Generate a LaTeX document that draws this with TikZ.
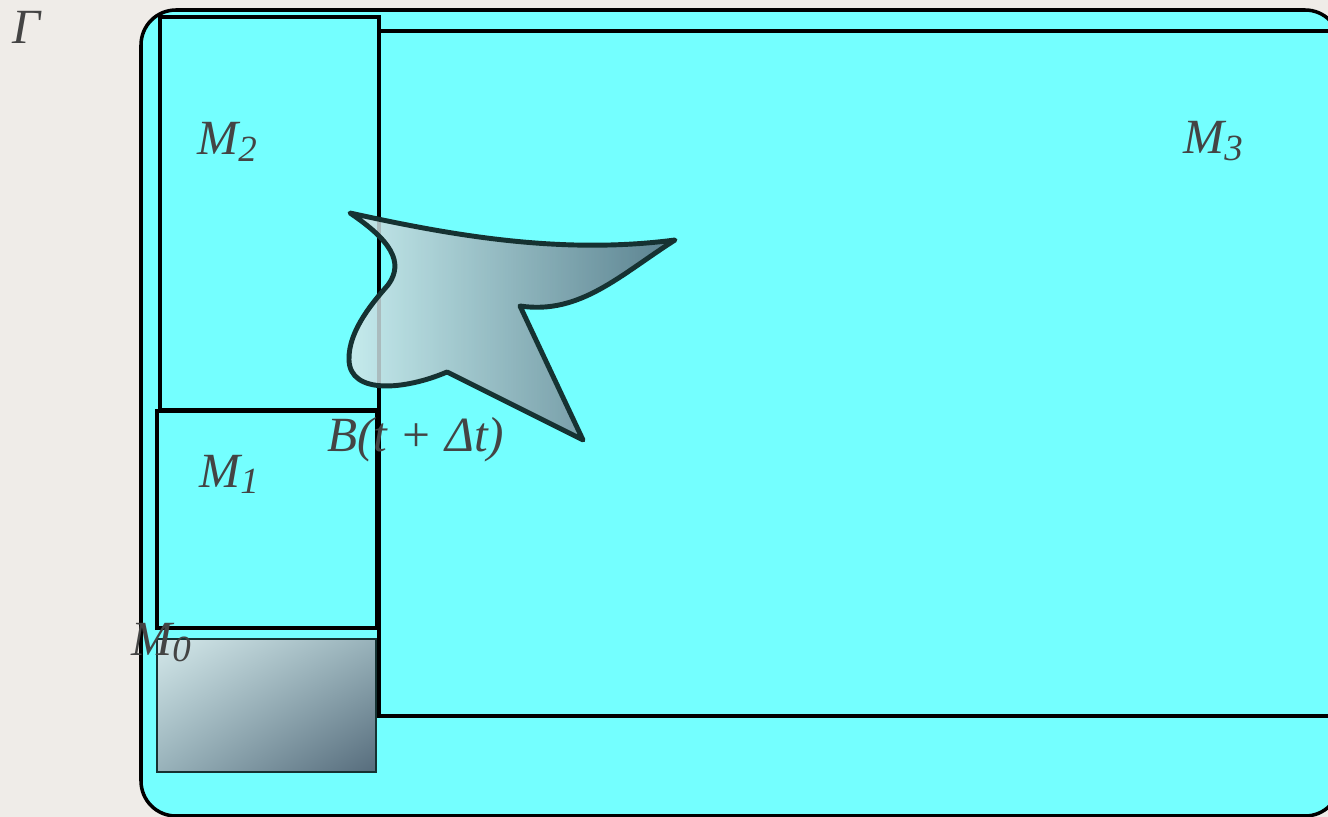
\documentclass[tikz,border=0pt]{standalone}
\usepackage{fontspec}
\setmainfont{Liberation Serif}
\usetikzlibrary{shadings}
\definecolor{paper}{HTML}{EFECE8}
\definecolor{cyanfill}{HTML}{74FFFF}
\definecolor{lbl}{HTML}{444444}
\definecolor{blobedge}{HTML}{163232}
\definecolor{lightg}{HTML}{D4E8EA}
\definecolor{midg}{HTML}{98B2BA}
\definecolor{darkg}{HTML}{566C7C}
\newcommand\subs[1]{\raisebox{-0.3ex}{\fontsize{21}{21}\selectfont #1}}
\begin{document}
\begin{tikzpicture}[x=0.02cm,y=-0.02cm,
  region/.style={draw=black, line width=1.8pt, fill=cyanfill},
  lab/.style={font=\fontsize{28}{28}\selectfont\itshape, text=lbl, inner sep=0pt, anchor=base west}]
\fill[paper] (0,0) rectangle (1328,817);
\useasboundingbox (0,0) rectangle (1328,817);
\begin{scope}
\clip (0,0) rectangle (1328,817);
\draw[region, line width=2pt, rounded corners=0.7cm] (141,10) rectangle (1340,816);
\draw[region] (379,31) rectangle (1345,716);
\draw[region] (160,17) rectangle (379,410);
\draw[region] (157,411) rectangle (377,628);
\shade[upper left=lightg, lower right=darkg, upper right=midg, lower left=midg]
  (157,639) rectangle (376,772);
\draw[draw=blobedge, line width=1.5pt] (157,639) rectangle (376,772);
\path[left color=lightg, right color=darkg, fill opacity=0.85]
  (350,213) .. controls (450,235) and (560,255) .. (675,240)
  .. controls (620,275) and (580,315) .. (520,306)
  -- (583,440) -- (447,372)
  .. controls (405,390) and (350,395) .. (349,360)
  .. controls (348,330) and (375,300) .. (388,285)
  .. controls (405,262) and (390,240) .. (350,213) -- cycle;
\draw[draw=blobedge, line width=2.8pt, line join=round]
  (350,213) .. controls (450,235) and (560,255) .. (675,240)
  .. controls (620,275) and (580,315) .. (520,306)
  -- (583,440) -- (447,372)
  .. controls (405,390) and (350,395) .. (349,360)
  .. controls (348,330) and (375,300) .. (388,285)
  .. controls (405,262) and (390,240) .. (350,213) -- cycle;
\end{scope}
\node[lab] (gamma) at (12,44) {Γ};
\node[lab] (m2) at (197,155) {M\subs{2}};
\node[lab] (m3) at (1183,154) {M\subs{3}};
\node[lab] (m1) at (199,487) {M\subs{1}};
\node[lab] (m0) at (131,655) {M\subs{0}};
\node[lab] (b) at (327,451) {B(t + Δt)};
\end{tikzpicture}
\end{document}
